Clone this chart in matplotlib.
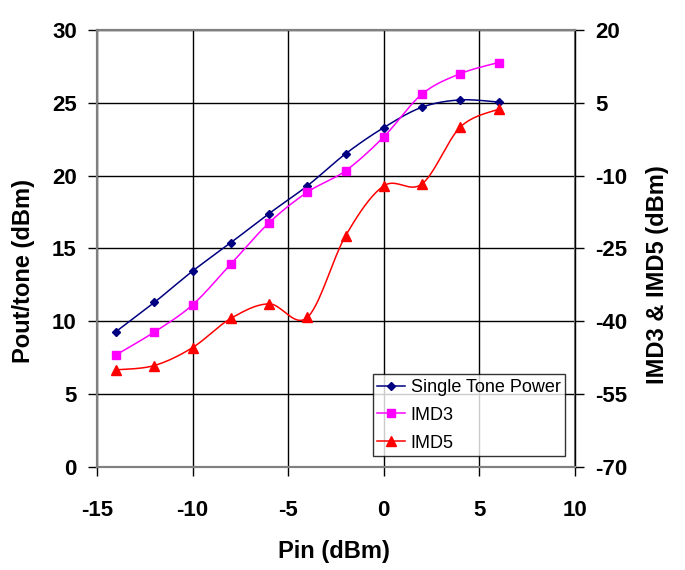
import matplotlib
matplotlib.use('Agg')
import matplotlib.pyplot as plt
import numpy as np

pin = [-14, -12, -10, -8, -6, -4, -2, 0, 2, 4, 6]
single_tone = [9.3, 11.3, 13.45, 15.4, 17.4, 19.3, 21.5, 23.3, 24.7, 25.2, 25.05]
imd3 = [-46.9, -42.2, -36.6, -28.2, -19.7, -13.4, -9.0, -2.0, 6.8, 11.0, 13.3]
imd5 = [-50.0, -49.1, -45.4, -39.4, -36.4, -39.2, -22.4, -12.1, -11.7, 0.0, 3.7]

plt.rcParams['font.family'] = ['Liberation Sans', 'DejaVu Sans']
plt.rcParams['axes.unicode_minus'] = False


def smooth(x, y, n=20):
    """Excel-like smoothed line: Catmull-Rom curve through the points."""
    p = np.column_stack([x, y]).astype(float)
    p = np.vstack([p[0], p, p[-1]])
    t = np.linspace(0, 1, n, endpoint=False)[:, None]
    out = []
    for i in range(1, len(p) - 2):
        p0, p1, p2, p3 = p[i - 1], p[i], p[i + 1], p[i + 2]
        c1 = p1 + (p2 - p0) / 6
        c2 = p2 - (p3 - p1) / 6
        seg = ((1 - t)**3 * p1 + 3 * (1 - t)**2 * t * c1
               + 3 * (1 - t) * t**2 * c2 + t**3 * p2)
        out.append(seg)
    out.append(p[-2][None, :])
    out = np.vstack(out)
    return out[:, 0], out[:, 1]


fig = plt.figure(figsize=(6.85, 5.7), dpi=100)
ax = fig.add_axes([0.1416, 0.1807, 0.6978, 0.7667])
ax2 = ax.twinx()

sx, sy = smooth(pin, single_tone)
ax.plot(sx, sy, color='#000080', lw=1.1)
ax.plot(pin, single_tone, ls='none', marker='D', ms=4.5, color='#000080')
l1, = ax.plot([], [], color='#000080', lw=1.1, marker='D', ms=4.5)

sx, sy = smooth(pin, imd3)
ax2.plot(sx, sy, color='#FF00FF', lw=1.1)
ax2.plot(pin, imd3, ls='none', marker='s', ms=5.5, color='#FF00FF')
l2, = ax2.plot([], [], color='#FF00FF', lw=1.1, marker='s', ms=5.5)

sx, sy = smooth(pin, imd5)
ax2.plot(sx, sy, color='#FF0000', lw=1.1)
ax2.plot(pin, imd5, ls='none', marker='^', ms=6.5, color='#FF0000')
l3, = ax2.plot([], [], color='#FF0000', lw=1.1, marker='^', ms=6.5)

ax.set_xlim(-15, 10)
ax.set_ylim(0, 30)
ax2.set_ylim(-70, 20)
ax.set_xticks(range(-15, 11, 5))
ax.set_yticks(range(0, 31, 5))
ax2.set_yticks(range(-70, 21, 15))

ax.grid(True, color='black', lw=1)
ax.set_axisbelow(True)
for a in (ax, ax2):
    for s in a.spines.values():
        s.set_color('#808080')
        s.set_linewidth(1.5)
    a.tick_params(labelsize=16, length=6.5, width=1, pad=8)
    for lab in a.get_xticklabels() + a.get_yticklabels():
        lab.set_fontweight('bold')
ax2.spines['right'].set_color('black')
ax2.spines['right'].set_linewidth(1)
ax.tick_params(axis='x', pad=17)

fig.text(0.4876, 0.0333, 'Pin (dBm)', fontsize=17, fontweight='bold',
         ha='center', va='center')
fig.text(0.035, 0.5246, 'Pout/tone (dBm)', fontsize=17, fontweight='bold',
         ha='center', va='center', rotation=90)
fig.text(0.96, 0.518, 'IMD3 & IMD5 (dBm)', fontsize=17, fontweight='bold',
         ha='center', va='center', rotation=90)

leg = ax2.legend([l1, l2, l3], ['Single Tone Power', 'IMD3', 'IMD5'],
                 loc='lower left', bbox_to_anchor=(0.577, 0.025),
                 borderaxespad=0, fontsize=13, frameon=True, fancybox=False,
                 borderpad=0.25, handlelength=1.55, labelspacing=0.6,
                 handletextpad=0.3)
leg.get_frame().set_edgecolor('black')
leg.get_frame().set_linewidth(1)

fig.savefig('out.png', dpi=100)
